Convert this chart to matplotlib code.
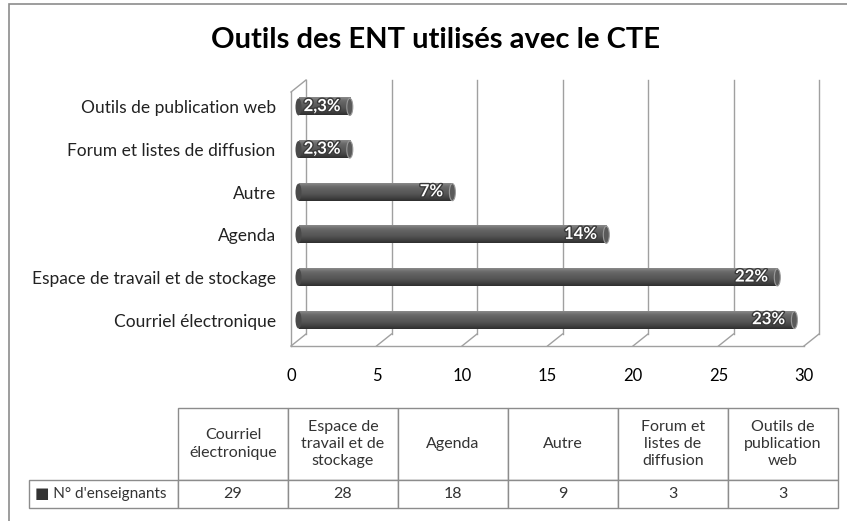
import matplotlib
matplotlib.use("Agg")
import matplotlib.pyplot as plt
import matplotlib.patheffects as pe
import numpy as np
from matplotlib.colors import LinearSegmentedColormap
from matplotlib.patches import Ellipse, Rectangle

plt.rcParams["font.family"] = ["Lato", "DejaVu Sans"]

# data, bottom bar first
categories = [
    "Courriel électronique",
    "Espace de travail et de stockage",
    "Agenda",
    "Autre",
    "Forum et listes de diffusion",
    "Outils de publication web",
]
table_headers = [
    "Courriel\nélectronique",
    "Espace de\ntravail et de\nstockage",
    "Agenda",
    "Autre",
    "Forum et\nlistes de\ndiffusion",
    "Outils de\npublication\nweb",
]
n_teachers = [29, 28, 18, 9, 3, 3]
pct_labels = ["23%", "22%", "14%", "7%", "2,3%", "2,3%"]
x_ticks = [0, 5, 10, 15, 20, 25, 30]
series_name = "N° d'enseignants"

W, H = 847, 521
fig = plt.figure(figsize=(W / 100, H / 100), dpi=100)

# outer chart frame (right and bottom run off the picture)
fig.patches.append(Rectangle((9 / W, -0.1), 2, (H - 4) / H + 0.1,
                             transform=fig.transFigure, fill=False,
                             ec="#8c8c8c", lw=1.2))

fig.text(435 / W, 1 - 40 / H, "Outils des ENT utilisés avec le CTE",
         ha="center", va="center", fontsize=21, fontweight="bold")

# plot area (front plane of the pseudo-3D box)
left_px, right_px, top_px, bottom_px = 291, 804, 92, 346
ax = fig.add_axes([left_px / W, 1 - bottom_px / H,
                   (right_px - left_px) / W, (bottom_px - top_px) / H])
ylo, yhi = -0.61, 5.35
ax.set_xlim(0, 30)
ax.set_ylim(ylo, yhi)
for s in ax.spines.values():
    s.set_visible(False)

px_x = (right_px - left_px) / 30
px_y = (bottom_px - top_px) / (yhi - ylo)
dx, dy = 15 / px_x, 12 / px_y

wall = dict(color="#a0a0a0", lw=1.0, clip_on=False, zorder=1)
for t in x_ticks:
    ax.plot([t + dx, t + dx], [ylo + dy, yhi + dy], **wall)
    ax.plot([t, t + dx], [ylo, ylo + dy], **wall)
ax.plot([0, 30], [ylo, ylo], **wall)
ax.plot([0, 0], [ylo, yhi], **wall)
ax.plot([0, dx], [yhi, yhi + dy], **wall)

# cylinder bars
cmap = LinearSegmentedColormap.from_list(
    "cyl", ["#2e2e2e", "#444444", "#555555", "#5e5e5e", "#6a6a6a", "#8a8a8a"])
grad = np.linspace(0, 1, 64).reshape(-1, 1)
bar_h = 0.40
x0 = dx / 2
cap_w = 6 / px_x
y_pos = np.arange(len(categories))
for y, v, lab in zip(y_pos, n_teachers, pct_labels):
    ax.imshow(grad, cmap=cmap, aspect="auto", origin="lower",
              extent=(x0, x0 + v, y - bar_h / 2, y + bar_h / 2), zorder=3)
    ax.add_patch(Ellipse((x0, y), cap_w, bar_h, fc="#4a4a4a", ec="none", zorder=3))
    ax.add_patch(Ellipse((x0 + v, y), cap_w, bar_h, fc="#5a5a5a",
                         ec="#9a9a9a", lw=0.8, zorder=4))
    ax.text(x0 + v - 0.55, y + 0.02, lab, ha="right", va="center",
            color="white", fontsize=12, fontweight="bold", zorder=5,
            path_effects=[pe.withStroke(linewidth=2, foreground="#3a3a3a")])
ax.set_xlim(0, 30)
ax.set_ylim(ylo, yhi)

ax.set_xticks(x_ticks)
ax.set_xticklabels([str(t) for t in x_ticks], fontsize=12)
ax.set_yticks(y_pos)
ax.set_yticklabels(categories, fontsize=12.5, color="#222222")
ax.tick_params(axis="x", length=0, pad=16)
ax.tick_params(axis="y", length=0, pad=11)

# data table below: cell sizes given as figure fractions so the bbox
# scaling is 1 and the row label hangs left of the data grid
tax = fig.add_axes([0, 0, 1, 1])
tax.axis("off")
tbl = tax.table(cellText=[[str(v) for v in n_teachers]],
                rowLabels=["■ " + series_name],
                colLabels=table_headers,
                cellLoc="center", rowLoc="left",
                bbox=[178 / W, 1 - 508 / H, (838 - 178) / W, 100 / H])
tbl.auto_set_font_size(False)
tbl._autoColumns = []  # keep the fixed row-label width instead of auto width
for (r, c), cell in tbl.get_celld().items():
    cell.set_edgecolor("#8c8c8c")
    cell.set_linewidth(1.0)
    txt = cell.get_text()
    txt.set_fontsize(11 if c == -1 else 11.5)
    txt.set_color("#333333")
    txt.set_linespacing(1.3)
    if c == -1:
        cell.PAD = 0.04
    cell.set_width((149 if c == -1 else 110) / W)
    cell.set_height((72 if r == 0 else 28) / H)

fig.savefig("out.png", dpi=100)
